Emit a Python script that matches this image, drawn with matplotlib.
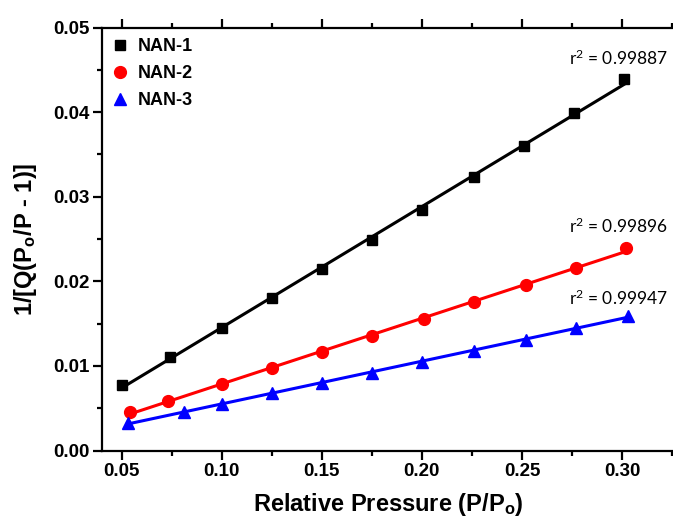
import numpy as np
import matplotlib
matplotlib.use("Agg")
import matplotlib.pyplot as plt
from matplotlib.ticker import MultipleLocator, FormatStrFormatter

plt.rcParams['font.family'] = ['Liberation Sans', 'DejaVu Sans']
plt.rcParams['font.weight'] = 'bold'
plt.rcParams['mathtext.fontset'] = 'custom'
plt.rcParams['mathtext.rm'] = 'Liberation Sans:bold'
plt.rcParams['mathtext.it'] = 'Liberation Sans:bold'
plt.rcParams['mathtext.bf'] = 'Liberation Sans:bold'

# Data
x1 = [0.050, 0.074, 0.100, 0.125, 0.150, 0.175, 0.200, 0.226, 0.251, 0.276, 0.301]
y1 = [0.0078, 0.0111, 0.0145, 0.0180, 0.0215, 0.0249, 0.0284, 0.0323, 0.0360, 0.0399, 0.0439]
x2 = [0.054, 0.073, 0.100, 0.125, 0.150, 0.175, 0.201, 0.226, 0.252, 0.277, 0.302]
y2 = [0.0045, 0.0059, 0.0079, 0.0097, 0.0117, 0.0135, 0.0155, 0.0175, 0.0196, 0.0216, 0.0239]
x3 = [0.053, 0.081, 0.100, 0.125, 0.150, 0.175, 0.200, 0.226, 0.252, 0.277, 0.303]
y3 = [0.0032, 0.0046, 0.0055, 0.0068, 0.0080, 0.0092, 0.0105, 0.0118, 0.0131, 0.0145, 0.0159]
labels = ['NAN-1', 'NAN-2', 'NAN-3']
r2_values = ['0.99887', '0.99896', '0.99947']

colors = ['black', 'red', 'blue']
markers = ['s', 'o', '^']
msizes = [7, 8.5, 8.5]

fig = plt.figure(figsize=(6.73, 5.25), dpi=100)
ax = fig.add_axes([0.1511, 0.1419, 0.852, 0.8057])

series = [(x1, y1), (x2, y2), (x3, y3)]
for (xs, ys), c, m, ms, lab in zip(series, colors, markers, msizes, labels):
    xs = np.array(xs); ys = np.array(ys)
    k, b = np.polyfit(xs, ys, 1)
    xf = np.array([xs[0], xs[-1]])
    ax.plot(xf, k * xf + b, color=c, lw=2.2, zorder=2)
    ax.plot(xs, ys, linestyle='none', marker=m, color=c, ms=ms, zorder=3, label=lab)

# r^2 annotations (left-aligned, baseline placed above last point)
ann_y = [0.04557, 0.02571, 0.0172]
for yb, v in zip(ann_y, r2_values):
    ax.text(0.2733, yb, r'r$^{\mathregular{2}}$ = ' + v, fontsize=12.5, fontweight='normal',
            family=['Lato', 'DejaVu Sans'], ha='left', va='baseline')

ax.set_xlim(0.04, 0.3265)
ax.set_ylim(0.0, 0.05)
ax.xaxis.set_major_locator(MultipleLocator(0.05))
ax.xaxis.set_minor_locator(MultipleLocator(0.025))
ax.yaxis.set_major_locator(MultipleLocator(0.01))
ax.yaxis.set_minor_locator(MultipleLocator(0.005))
ax.xaxis.set_major_formatter(FormatStrFormatter('%.2f'))
ax.yaxis.set_major_formatter(FormatStrFormatter('%.2f'))
xt = [0.05, 0.10, 0.15, 0.20, 0.25, 0.30]
ax.set_xticks(xt)

for s in ax.spines.values():
    s.set_linewidth(1.6)
ax.tick_params(which='both', direction='out', width=1.6, top=True, right=True,
               labeltop=False, labelright=False, labelsize=13.5, pad=2.5)
ax.tick_params(which='major', length=6.5)
ax.tick_params(which='minor', length=3.8)
for lbl in ax.get_xticklabels() + ax.get_yticklabels():
    lbl.set_fontweight('bold')

ax.set_xlabel(r'Relative Pressure (P/P$_{\rm o}$)', fontsize=17, fontweight='bold', labelpad=8)
ax.set_ylabel(r'1/[Q(P$_{\rm o}$/P - 1)]', fontsize=17, fontweight='bold', labelpad=10)

leg = ax.legend(loc='upper left', frameon=False, fontsize=13, handlelength=0.8,
                handletextpad=0.6, labelspacing=0.55, borderaxespad=0.2,
                bbox_to_anchor=(0.0, 1.0))
for t in leg.get_texts():
    t.set_fontweight('bold')

fig.savefig('out.png', dpi=100)
